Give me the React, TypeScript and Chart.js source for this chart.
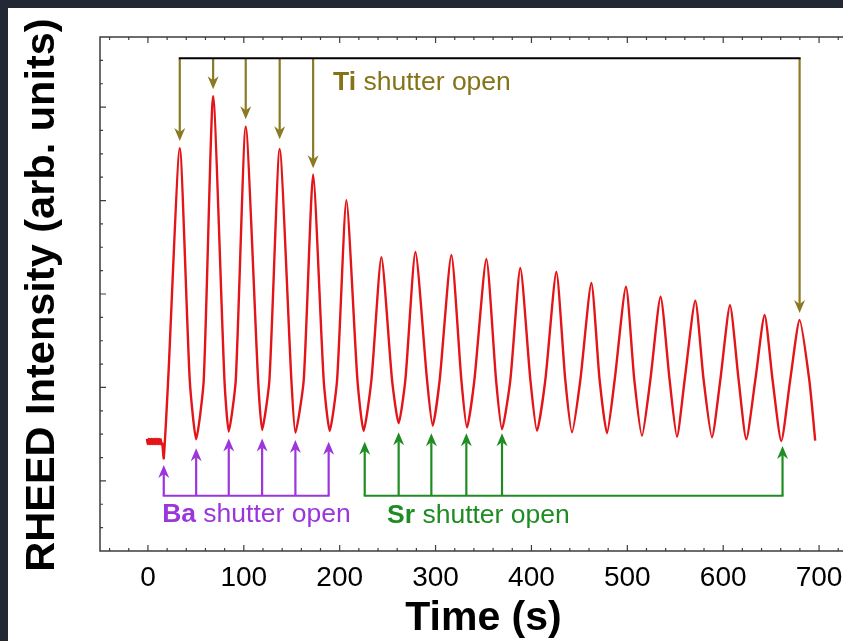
import React, { useEffect, useRef } from "react";
import { Chart, registerables } from "chart.js";

Chart.register(...registerables);

const FONT = '"Liberation Sans", Arial, Helvetica, sans-serif';

// RHEED trace: time (s) and intensity (arb. units)
const timeS = [
  -1, -0.2, 0.6, 1.4, 2.2, 3.0, 3.8, 4.6, 5.4, 6.2, 7.0, 7.8, 8.6, 9.4, 10.2, 11.0, 11.8, 12.6, 13.4, 14.2, 15.0,
  16.5, 21.1,
  33.2,
  43.6, 50.3, 58.2,
  68.0,
  79.8, 84.3, 91.6,
  102.0,
  114.9, 119.1, 126.7,
  137.4,
  149.6, 153.8, 162.5,
  172.3,
  183.3, 189.6, 197.3,
  207.0,
  218.5, 225.0, 233.1,
  243.5,
  254.6, 261.5, 268.5,
  279.0,
  291.1, 297.0, 304.3,
  316.5,
  326.9, 332.8, 340.5,
  353.0,
  363.1, 369.3, 378.0,
  388.4,
  398.9, 405.8, 414.5,
  426.0,
  435.3, 442.3, 451.0,
  462.5,
  471.1, 478.8, 486.8,
  498.6,
  507.3, 515.3, 524.0,
  534.7,
  544.1, 551.8, 559.8,
  570.9,
  579.6, 588.3, 597.0,
  607.1,
  616.1, 624.1, 633.5,
  643.2,
  651.5, 660.6, 669.9,
  679.7,
  689.8, 696.0,
];
const intensity = [
  4.8, 4.58, 4.8, 4.58, 4.8, 4.58, 4.8, 4.58, 4.8, 4.58, 4.8, 4.58, 4.8, 4.58, 4.8, 4.58, 4.8, 4.58, 4.78, 4.58, 4.6,
  3.97, 7.32,
  17.24,
  7.32, 4.78, 7.32,
  19.47,
  7.32, 5.11, 7.32,
  18.16,
  7.32, 5.18, 7.32,
  17.21,
  7.32, 5.06, 7.32,
  16.12,
  7.32, 5.14, 7.32,
  15.02,
  7.32, 5.14, 7.32,
  12.58,
  7.32, 5.47, 7.32,
  12.8,
  7.32, 5.36, 7.32,
  12.67,
  7.32, 5.28, 7.32,
  12.5,
  7.32, 5.21, 7.32,
  12.11,
  7.32, 5.14, 7.32,
  11.94,
  7.32, 5.08, 7.32,
  11.47,
  7.32, 5.04, 7.32,
  11.31,
  7.32, 4.93, 7.32,
  10.88,
  7.32, 4.89, 7.32,
  10.71,
  7.32, 4.87, 7.32,
  10.52,
  7.32, 4.78, 7.32,
  10.1,
  7.32, 4.71, 7.32,
  9.89,
  7.32, 4.72,
];

// shutter events (time, arrow tip level)
const tiTimes = [33.2, 68.0, 102.0, 137.4, 172.3, 679.7];
const tiTips = [17.55, 19.76, 18.48, 17.62, 16.38, 10.19];
const tiBarLevel = 21.09;
const baTimes = [16.5, 50.3, 84.3, 119.1, 153.8, 188.5];
const baTips = [3.68, 4.4, 4.82, 4.82, 4.75, 4.68];
const srTimes = [226.1, 261.5, 295.6, 332.1, 369.3, 661.9];
const srTips = [4.68, 5.08, 5.04, 5.04, 5.04, 4.49];
const lowBarLevel = 2.37;

// labels: [bold part, normal part], anchor time, anchor level
const labelBold = ["Ti", "Ba", "Sr"];
const labelRest = ["shutter open", "shutter open", "shutter open"];
const labelTimes = [193.1, 14.8, 249.4];
const labelLevels = [19.73, 1.25, 1.21];

// axes
const xTickValues = [0, 100, 200, 300, 400, 500, 600, 700];
const xTickLabels = ["0", "100", "200", "300", "400", "500", "600", "700"];
const xMinorTicks = [-40, -20, 0, 20, 40, 60, 80, 100, 120, 140, 160, 180, 200, 220, 240, 260, 280, 300, 320, 340, 360, 380, 400, 420, 440, 460, 480, 500, 520, 540, 560, 580, 600, 620, 640, 660, 680, 700, 720, 740];
const yMinorTicks = [1, 2, 3, 4, 5, 6, 7, 8, 9, 10, 11, 12, 13, 14, 15, 16, 17, 18, 19, 20, 21];
const yMajorTicks = [3, 7, 11, 15, 19];

const TI_COLOR = "#8a7a22";
const TI_TEXT = "#857318";
const BA_COLOR = "#9b35dc";
const SR_COLOR = "#1f8c23";
const RED = "#e31519";

function arrowHead(ctx: CanvasRenderingContext2D, x: number, tipY: number, dir: number, color: string) {
  const L = 13, W = 5.5, N = 9;
  ctx.beginPath();
  ctx.moveTo(x, tipY);
  ctx.lineTo(x - W, tipY - dir * L);
  ctx.lineTo(x, tipY - dir * N);
  ctx.lineTo(x + W, tipY - dir * L);
  ctx.closePath();
  ctx.fillStyle = color;
  ctx.fill();
}

function arrowGroup(
  ctx: CanvasRenderingContext2D, xs: any, ys: any,
  times: number[], tips: number[], barLevel: number, color: string, barColor: string, dir: number
) {
  const by = ys.getPixelForValue(barLevel);
  const x0 = xs.getPixelForValue(times[0]);
  const x1 = xs.getPixelForValue(times[times.length - 1]);
  ctx.lineWidth = 2.2;
  ctx.strokeStyle = color;
  times.forEach((t, i) => {
    const px = xs.getPixelForValue(t);
    const ty = ys.getPixelForValue(tips[i]);
    ctx.beginPath();
    ctx.moveTo(px, by);
    ctx.lineTo(px, ty - dir * 9);
    ctx.stroke();
    arrowHead(ctx, px, ty, dir, color);
  });
  ctx.strokeStyle = barColor;
  ctx.lineWidth = 2;
  ctx.beginPath();
  ctx.moveTo(x0 - 1, by);
  ctx.lineTo(x1 + 1, by);
  ctx.stroke();
}

const decorPlugin = {
  id: "rheedDecor",
  afterDatasetsDraw(chart: any) {
    const { ctx, chartArea, scales } = chart;
    const { left, top, right, bottom } = chartArea;
    const xs = scales.x, ys = scales.y;
    ctx.save();
    // frame
    ctx.strokeStyle = "#3c3c3c";
    ctx.lineWidth = 1.5;
    ctx.beginPath();
    ctx.moveTo(right, top);
    ctx.lineTo(left, top);
    ctx.lineTo(left, bottom);
    ctx.lineTo(right, bottom);
    ctx.stroke();
    // inner ticks
    ctx.lineWidth = 1.2;
    ctx.beginPath();
    xMinorTicks.forEach((v) => {
      const px = xs.getPixelForValue(v);
      const len = xTickValues.includes(v) ? 6 : 3;
      ctx.moveTo(px, bottom);
      ctx.lineTo(px, bottom - len);
      ctx.moveTo(px, top);
      ctx.lineTo(px, top + len);
    });
    yMinorTicks.forEach((v) => {
      const py = ys.getPixelForValue(v);
      const len = yMajorTicks.includes(v) ? 6 : 3;
      ctx.moveTo(left, py);
      ctx.lineTo(left + len, py);
    });
    ctx.stroke();

    // shutter arrows
    arrowGroup(ctx, xs, ys, tiTimes, tiTips, tiBarLevel, TI_COLOR, "#000", 1);
    arrowGroup(ctx, xs, ys, baTimes, baTips, lowBarLevel, BA_COLOR, BA_COLOR, -1);
    arrowGroup(ctx, xs, ys, srTimes, srTips, lowBarLevel, SR_COLOR, SR_COLOR, -1);

    // labels
    const colors = [TI_TEXT, BA_COLOR, SR_COLOR];
    ctx.textBaseline = "alphabetic";
    ctx.textAlign = "left";
    labelBold.forEach((b, i) => {
      const px = xs.getPixelForValue(labelTimes[i]);
      const py = ys.getPixelForValue(labelLevels[i]);
      ctx.fillStyle = colors[i];
      ctx.font = `bold 26.5px ${FONT}`;
      ctx.fillText(b, px, py);
      const w = ctx.measureText(b).width;
      ctx.font = `26.5px ${FONT}`;
      ctx.fillText(" " + labelRest[i], px + w, py);
    });

    // y axis title
    ctx.save();
    ctx.translate(35, (top + bottom) / 2 + 1);
    ctx.rotate(-Math.PI / 2);
    ctx.font = `bold 41.5px ${FONT}`;
    ctx.fillStyle = "#000";
    ctx.textAlign = "center";
    ctx.textBaseline = "middle";
    ctx.fillText("RHEED Intensity (arb. units)", 0, 0);
    ctx.restore();
    ctx.restore();
  },
};

export default function App() {
  const ref = useRef<HTMLCanvasElement>(null);
  useEffect(() => {
    document.body.style.background = "#222935";
    document.body.style.overflow = "hidden";
    const points = timeS.map((t, i) => ({ x: t, y: intensity[i] }));
    const chart = new Chart(ref.current as HTMLCanvasElement, {
      type: "line",
      data: {
        datasets: [
          {
            data: points,
            borderColor: RED,
            borderWidth: 2.4,
            pointRadius: 0,
            tension: 0.2,
            fill: false,
          },
        ],
      },
      options: {
        animation: false,
        responsive: false,
        maintainAspectRatio: false,
        layout: { padding: { top: 29, left: 0, right: 0, bottom: 0 } },
        plugins: { legend: { display: false }, tooltip: { enabled: false } },
        scales: {
          x: {
            type: "linear",
            min: -50,
            max: 750,
            grid: { display: false },
            border: { display: false },
            afterBuildTicks: (s: any) => {
              s.ticks = xTickValues.map((v) => ({ value: v }));
            },
            afterFit: (s: any) => {
              s.height = 90;
            },
            ticks: {
              autoSkip: false,
              maxRotation: 0,
              padding: 2,
              color: "#000",
              font: { family: FONT, size: 28 },
              callback: (v: any) => {
                const i = xTickValues.indexOf(Number(v));
                return i >= 0 ? xTickLabels[i] : "";
              },
            },
            title: {
              display: true,
              text: "Time (s)",
              color: "#000",
              font: { family: FONT, size: 41, weight: "bold", lineHeight: 1.2 },
              padding: { top: 0, bottom: -2 },
            },
          },
          y: {
            type: "linear",
            min: 0,
            max: 22,
            grid: { display: false },
            border: { display: false },
            ticks: { display: false },
            afterFit: (s: any) => {
              s.width = 92;
            },
          },
        },
      },
      plugins: [decorPlugin],
    } as any);
    return () => chart.destroy();
  }, []);
  return (
    <div style={{ position: "fixed", left: 8, top: 8, width: 900, height: 700, overflow: "hidden", background: "#fff" }}>
      <canvas ref={ref} width={859} height={633} style={{ display: "block", width: 859, height: 633 }} />
    </div>
  );
}
